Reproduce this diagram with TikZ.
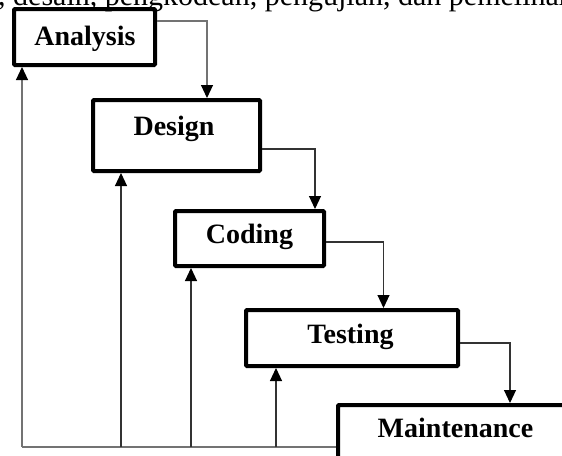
\documentclass[tikz,border=0pt]{standalone}
\usepackage{fontspec}
\setmainfont{Liberation Serif}
\usetikzlibrary{arrows.meta}
\begin{document}
\begin{tikzpicture}[x=1pt,y=-1pt,
  stagebox/.style={draw=black,line width=4pt,rounded corners=1pt,rectangle,inner sep=0pt},
  lbl/.style={anchor=base,inner sep=0pt,font=\fontsize{28}{30}\selectfont\bfseries},
  tip/.tip={Triangle[width=12pt,length=13pt,color=black]},
  arr/.style={draw=black!80,line width=1.1pt,-tip},
  garr/.style={draw=black!55,line width=1.1pt,-tip},
  gline/.style={draw=black!55,line width=1.1pt}]
\useasboundingbox (0,0) rectangle (562,455);
\clip (0,0) rectangle (562,455);
% cropped text line at the top
\node[anchor=base west,inner sep=0pt,font=\fontsize{30}{32}\selectfont] (toptext) at (-2,5.5) {, desain, pengkodean, pengujian, dan pemeliharaan};
% stages
\node[stagebox,minimum width=141pt,minimum height=56pt] (analysis) at (84.5,37) {};
\node[stagebox,minimum width=167pt,minimum height=71pt] (design) at (176.5,135.5) {};
\node[stagebox,minimum width=149pt,minimum height=55pt] (coding) at (249.5,238.5) {};
\node[stagebox,minimum width=212pt,minimum height=56pt] (testing) at (352,338) {};
\node[stagebox,minimum width=237pt,minimum height=70pt] (maint) at (456.5,440) {};
\node[lbl] (tanalysis) at (85,45) {Analysis};
\node[lbl] (tdesign) at (174,135) {Design};
\node[lbl] (tcoding) at (249.5,243) {Coding};
\node[lbl] (ttesting) at (350.5,343) {Testing};
\node[lbl] (tmaint) at (455.5,437) {Maintenance};
% forward flow
\draw[garr] ([yshift=16pt]analysis.east) -| ([xshift=30.5pt]design.north);
\draw[arr] ([yshift=-13.5pt]design.east) -| ([xshift=65.5pt]coding.north);
\draw[arr] ([yshift=-3.5pt]coding.east) -| ([xshift=31.5pt]testing.north);
\draw[arr] ([yshift=-5pt]testing.east) -| ([xshift=53.5pt]maint.north);
% feedback
\coordinate (corner) at (22,447);
\draw[gline] ([yshift=-7pt]maint.west) -- (corner);
\draw[garr] (corner) -- ([xshift=-62.5pt]analysis.south);
\draw[arr] ([xshift=-55.5pt]design.south |- corner) -- ([xshift=-55.5pt]design.south);
\draw[arr] ([xshift=-58.5pt]coding.south |- corner) -- ([xshift=-58.5pt]coding.south);
\draw[arr] ([xshift=-76pt]testing.south |- corner) -- ([xshift=-76pt]testing.south);
\end{tikzpicture}
\end{document}
